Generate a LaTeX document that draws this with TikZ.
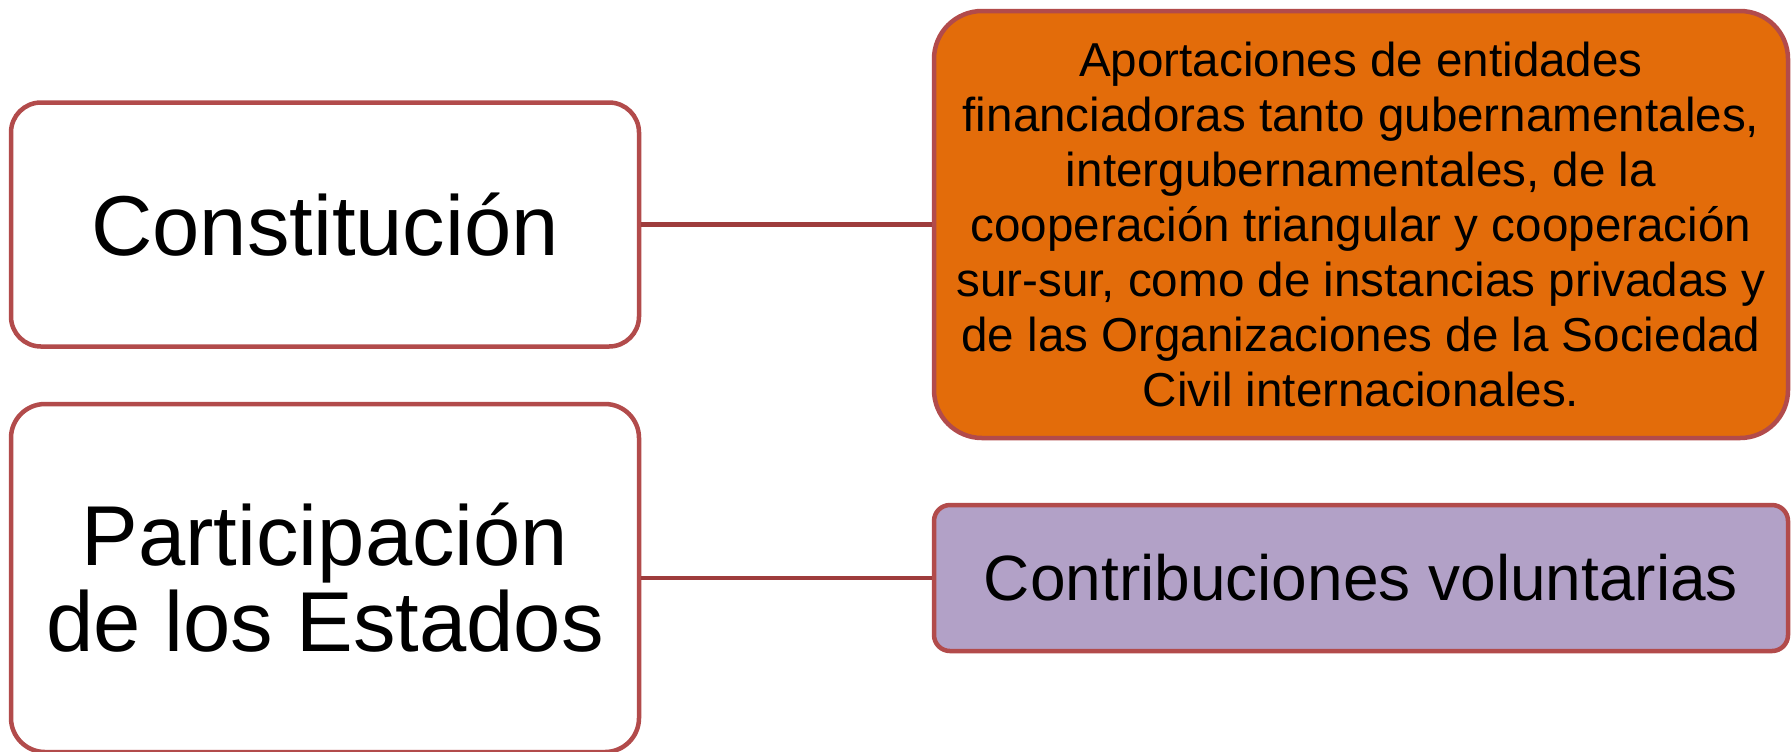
\documentclass[tikz,border=0pt]{standalone}
\usepackage{fontspec}
\setmainfont{Liberation Sans}
\definecolor{boxline}{RGB}{178,75,75}
\definecolor{connline}{RGB}{158,60,60}
\definecolor{naranja}{RGB}{227,108,10}
\definecolor{lila}{RGB}{178,161,199}
\begin{document}
\begin{tikzpicture}[x=0.5pt, y=-0.5pt,
    caja/.style={draw=boxline, line width=2.25pt, rounded corners=#1, align=center, inner sep=0pt, text=black},
    caja/.default=15pt,
    conector/.style={draw=connline, line width=2.25pt}]
    % Frame
    \useasboundingbox (0,0) rectangle (1791,751);

    % Left boxes
    \node[caja=15pt, fill=white, minimum width=314pt, minimum height=122pt,
          font=\fontsize{42.5}{43}\selectfont] (cons) at (325,224.5) {Constitución};
    \node[caja=17pt, fill=white, minimum width=314pt, minimum height=174pt,
          font=\fontsize{42.5}{43}\selectfont] (part) at (325,578) {Participación\\de los Estados};

    % Right boxes
    \node[caja=24pt, fill=naranja, minimum width=427pt, minimum height=213.5pt,
          font=\fontsize{23.8}{27.5}\selectfont] (apor) at (1361,224.5)
          {Aportaciones de entidades\\financiadoras tanto gubernamentales,\\intergubernamentales, de la\\cooperación triangular y cooperación\\sur-sur, como de instancias privadas y\\de las Organizaciones de la Sociedad\\Civil internacionales.};
    \node[caja=8pt, fill=lila, minimum width=427pt, minimum height=73pt,
          font=\fontsize{32}{36}\selectfont] (contrib) at (1361,578) {Contribuciones voluntarias};

    % Connectors
    \draw[conector] (cons.east) -- (apor.west);
    \draw[conector] (part.east) -- (contrib.west);
\end{tikzpicture}
\end{document}
